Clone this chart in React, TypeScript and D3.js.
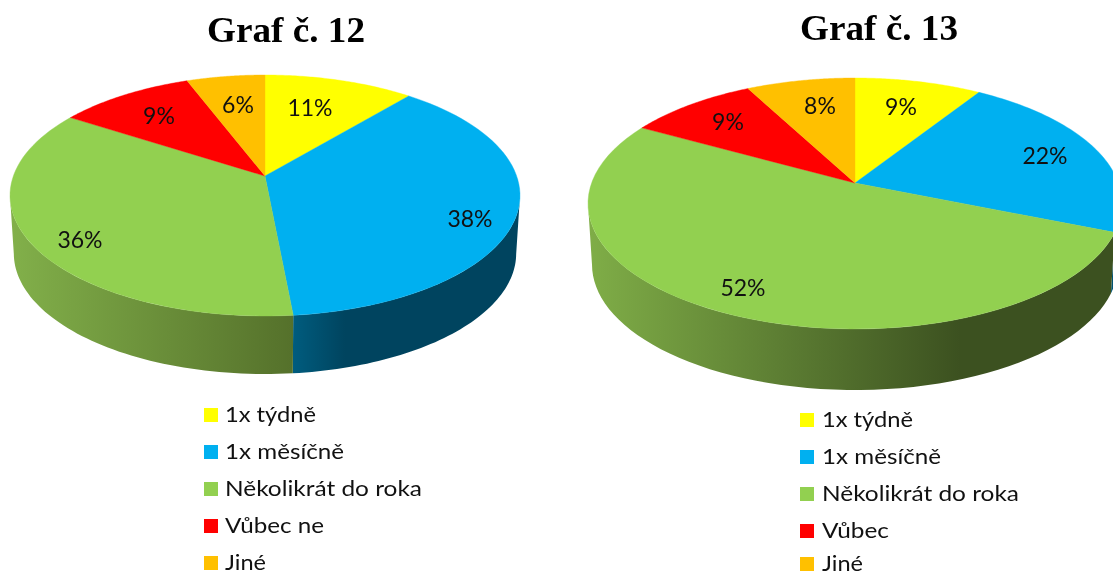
import React from "react";
import * as d3 from "d3";

const categoriesA = ["1x týdně", "1x měsíčně", "Několikrát do roka", "Vůbec ne", "Jiné"];
const categoriesB = ["1x týdně", "1x měsíčně", "Několikrát do roka", "Vůbec", "Jiné"];
const sliceValuesA = [11.1, 37.4, 35.6, 10.1, 5.8];
const sliceValuesB = [9.0, 22.2, 51.9, 9.2, 7.7];
const percentLabelsA = ["11%", "38%", "36%", "9%", "6%"];
const percentLabelsB = ["9%", "22%", "52%", "9%", "8%"];
const colors = ["#ffff00", "#00b0f0", "#92d050", "#ff0000", "#ffc000"];

type Geo = {
  id: string; cx: number; cy: number; top: number; bottom: number; left: number; depth: number;
  title: string; titleX: number; titleY: number;
  legendSwatchX: number; legendTextX: number; legendY: number[]; legendWidths: number[];
  labelOffsets: number[][];
  wallStops: Record<number, { x1: number; x2: number; from: string; to: string }>;
};

const geoA: Geo = {
  id: "a", cx: 265, cy: 176, top: 75, bottom: 316, left: 10, depth: 58,
  title: "Graf č. 12", titleX: 286, titleY: 42,
  legendSwatchX: 204, legendTextX: 225, legendY: [415.5, 452.5, 489.5, 526.5, 563.5], legendWidths: [91, 119, 197, 99, 41],
  labelOffsets: [[45, -68], [205, 43], [-185, 64], [-106, -60], [-27, -71]],
  wallStops: {
    1: { x1: 293, x2: 345, from: "#005c7e", to: "#00445f" },
    2: { x1: 10, x2: 293, from: "#82b04a", to: "#55712b" },
  },
};
const geoB: Geo = {
  id: "b", cx: 855, cy: 183, top: 78, bottom: 329, left: 588, depth: 61,
  title: "Graf č. 13", titleX: 879, titleY: 40,
  legendSwatchX: 800, legendTextX: 822, legendY: [420.5, 457.5, 494.5, 531.5, 564.5], legendWidths: [91, 119, 197, 67, 41],
  labelOffsets: [[46, -76], [190, -27], [-112, 105], [-127, -61], [-35, -77]],
  wallStops: {
    1: { x1: 1105, x2: 1125, from: "#005c7e", to: "#00445f" },
    2: { x1: 590, x2: 960, from: "#7fad47", to: "#3c5120" },
  },
};

function makeProjector(g: Geo) {
  const up = g.cy - g.top;
  const down = g.bottom - g.cy;
  const k = (down - up) / (down + up);
  const S = up * (1 + k);
  const R = (g.cx - g.left) * Math.sqrt(1 - k * k);
  return (theta: number, r = 1): [number, number] => {
    const u = Math.sin(theta) * r;
    const v = -Math.cos(theta) * r;
    const w = 1 - k * v;
    return [g.cx + (R * u) / w, g.cy + (S * v) / w];
  };
}

const line = d3.line();

function Pie3D({ g, values, labels, names }: { g: Geo; values: number[]; labels: string[]; names: string[] }) {
  const project = makeProjector(g);
  const arcs = d3.pie<number>().sort(null).startAngle(0).endAngle(2 * Math.PI)(values);
  const samples = (a: number, b: number) =>
    d3.range(0, 61).map((i) => a + ((b - a) * i) / 60);
  const shrink = 0.985;
  const thetas = d3.range(0, 720).map((i) => (i / 720) * 2 * Math.PI);
  const frontStart = thetas[d3.greatestIndex(thetas, (t) => project(t)[0])];
  const frontEnd = thetas[d3.leastIndex(thetas, (t) => project(t)[0])];
  const wallFor = (a0: number, b0: number) => {
    const a = Math.max(a0, frontStart);
    const b = Math.min(b0, frontEnd);
    if (b <= a) return "";
    const upper = samples(a, b).map((t) => project(t));
    const lower = upper
      .map(([x, y]): [number, number] => [g.cx + (x - g.cx) * shrink, y + g.depth])
      .reverse();
    return line([...upper, ...lower]) + "Z";
  };
  const topFor = (a: number, b: number) =>
    line([[g.cx, g.cy], ...samples(a, b).map((t) => project(t))]) + "Z";

  return (
    <g>
      <defs>
        {Object.entries(g.wallStops).map(([i, s]) => (
          <linearGradient key={i} id={`wall-${g.id}-${i}`} gradientUnits="userSpaceOnUse" x1={s.x1} x2={s.x2} y1={0} y2={0}>
            <stop offset="0" stopColor={s.from} />
            <stop offset="1" stopColor={s.to} />
          </linearGradient>
        ))}
      </defs>
      <text x={g.titleX} y={g.titleY} textAnchor="middle" fontFamily="'Liberation Serif'" fontWeight="bold" fontSize={36}
        textLength={158} lengthAdjust="spacingAndGlyphs" fill="#000">
        {g.title}
      </text>
      {arcs.map((d, i) =>
        g.wallStops[i] ? (
          <path key={i} d={wallFor(d.startAngle, d.endAngle)} fill={`url(#wall-${g.id}-${i})`} />
        ) : null
      )}
      {arcs.map((d, i) => (
        <path key={i} d={topFor(d.startAngle, d.endAngle)} fill={colors[i]} stroke={colors[i]} strokeWidth={0.4} />
      ))}
      {labels.map((t, i) => (
        <text key={i} x={g.cx + g.labelOffsets[i][0]} y={g.cy + g.labelOffsets[i][1]} dy="0.35em" textAnchor="middle"
          fontFamily="'Lato'" fontSize={23} fill="#111">
          {t}
        </text>
      ))}
      {names.map((t, i) => (
        <g key={i}>
          <rect x={g.legendSwatchX} y={g.legendY[i] - 7.5} width={14} height={14} fill={colors[i]} />
          <text x={g.legendTextX} y={g.legendY[i]} dy="0.33em" fontFamily="'Lato'" fontSize={21}
            textLength={g.legendWidths[i]} lengthAdjust="spacingAndGlyphs" fill="#111">
            {t}
          </text>
        </g>
      ))}
    </g>
  );
}

export default function App() {
  return (
    <svg width={1113} height={576} viewBox="0 0 1113 576"
      style={{ position: "absolute", left: 0, top: 0, display: "block", background: "#fff", filter: "blur(0.5px)" }}>
      <Pie3D g={geoB} values={sliceValuesB} labels={percentLabelsB} names={categoriesB} />
      <Pie3D g={geoA} values={sliceValuesA} labels={percentLabelsA} names={categoriesA} />
    </svg>
  );
}
